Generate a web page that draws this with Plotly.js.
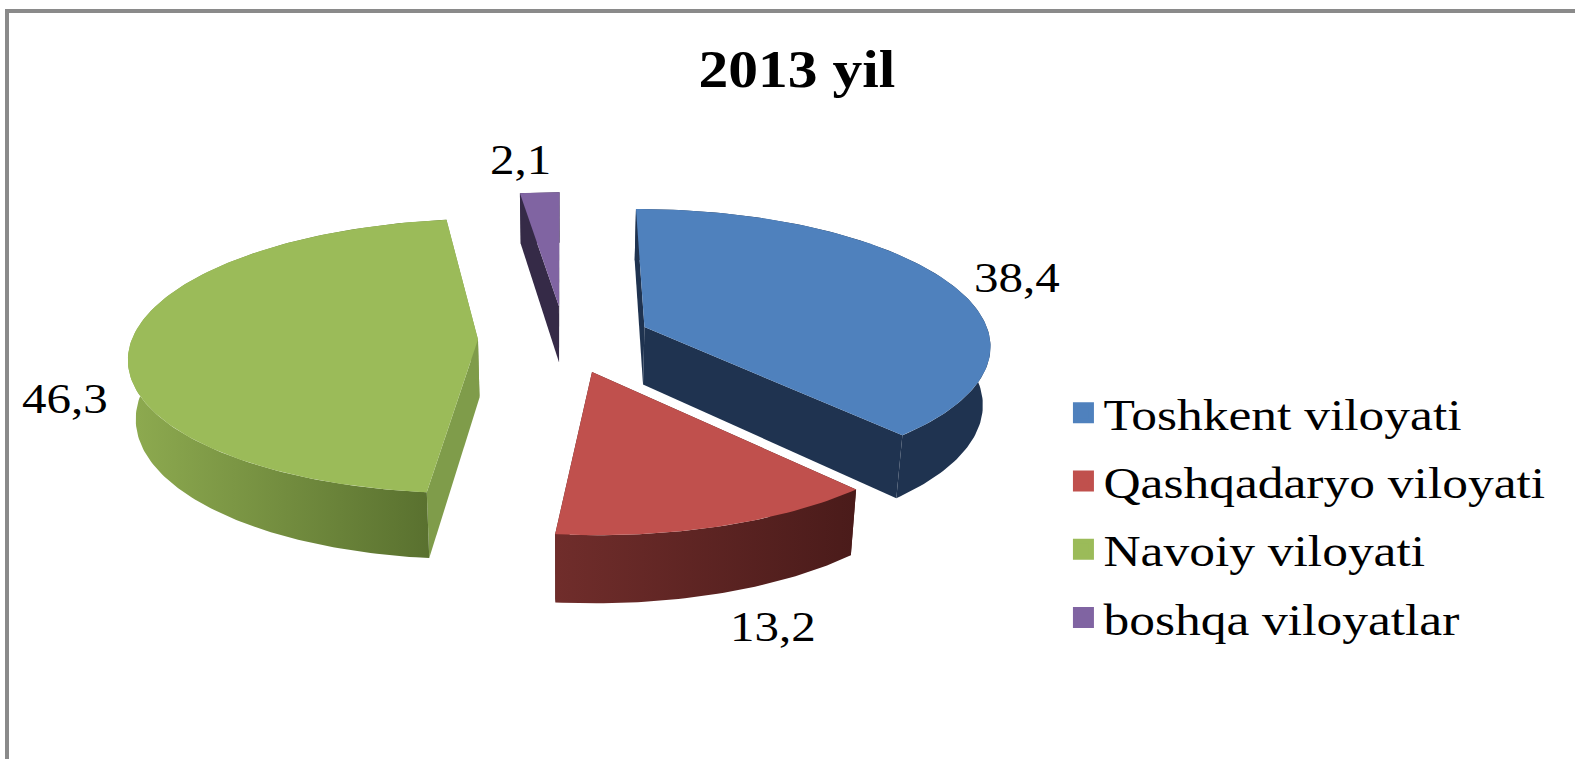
<!DOCTYPE html>
<html><head><meta charset="utf-8">
<script src="https://cdn.plot.ly/plotly-3.0.1.min.js"></script>
<style>html,body{margin:0;padding:0;background:#fff;overflow:hidden}
.legendtext{transform:scaleX(1.17);transform-box:fill-box;transform-origin:left center}
.annotation-text{transform:scaleX(1.14);transform-box:fill-box;transform-origin:center center}
.gtitle{transform:scaleX(1.145);transform-box:fill-box;transform-origin:center center}
</style>
</head><body><div id="chart" style="width:1575px;height:759px"></div>
<script>
const categories = ["Toshkent viloyati","Qashqadaryo viloyati","Navoiy viloyati","boshqa viloyatlar"];
const values = [38.4,13.2,46.3,2.1];
const valueLabels = ["38,4","13,2","46,3","2,1"];
const topColors = ["#4f81bd","#c0504d","#9bbb59","#8064a2"];
const cutColors = ["#1f3350","#4d1d1b","#7f9c4a","#352a47"];
const wallLeft = ["#1f3350","#702d2b","#8eab50","#352a47"];
const wallRight = ["#1f3350","#4a1b1a","#566d2d","#352a47"];
const labelPos = [[1017,278],[773,627],[65,399],[520,160]];

const cx=564.5, cy=339, Rx=346, Ry=135, k=0.12, ex=0.25, depth=58, shrink=0.982;
function proj(u,v,drop){
  const f=1/(1-k*v);
  const s=drop?shrink:1;
  return [cx+Rx*u*f*s, cy+Ry*v*f+(drop?depth*f:0)];
}
const total=values.reduce((a,b)=>a+b,0);
let acc=0;
const slices=values.map((val,i)=>{
  const a0=acc/total*2*Math.PI; acc+=val; const a1=acc/total*2*Math.PI;
  const m=(a0+a1)/2, ou=ex*Math.sin(m), ov=-ex*Math.cos(m);
  const pt=(a,r,d)=>proj(ou+r*Math.sin(a),ov-r*Math.cos(a),d);
  const n=Math.max(4,Math.ceil((a1-a0)/(Math.PI/180)));
  const arc=d=>{const p=[];for(let j=0;j<=n;j++)p.push(pt(a0+(a1-a0)*j/n,1,d));return p;};
  return {i,a0,a1,apex:d=>pt(0,0,d),arc};
});
function poly(pts,extra){
  const c=pts.concat([pts[0]]);
  return Object.assign({type:"scatter",mode:"lines",x:c.map(p=>p[0]),y:c.map(p=>p[1]),fill:"toself",
    line:{width:0},hoverinfo:"skip",showlegend:false},extra);
}
const traces=[];
function walls(i){
  const s=slices[i], top=s.arc(false), bot=s.arc(true);
  traces.push(poly([s.apex(false),top[0],bot[0],s.apex(true)],{fillcolor:cutColors[i]}));
  const L=top.length-1;
  traces.push(poly([s.apex(false),top[L],bot[L],s.apex(true)],{fillcolor:cutColors[i]}));
  const xs=top.concat(bot).map(p=>p[0]);
  traces.push(poly(top.concat(bot.slice().reverse()),{
    fillgradient:{type:"horizontal",start:Math.min(...xs),stop:Math.max(...xs),
      colorscale:[[0,wallLeft[i]],[1,wallRight[i]]]}}));
}
[3,2,0,1].forEach(walls);
[3,2,0,1].forEach(i=>{
  const s=slices[i];
  traces.push(poly([s.apex(false)].concat(s.arc(false)),{fillcolor:topColors[i]}));
});
categories.forEach((c,i)=>traces.push({type:"scatter",mode:"markers",x:[null],y:[null],name:c,
  legendgroup:c,marker:{symbol:"square",size:16,color:topColors[i],line:{color:topColors[i],width:5}},hoverinfo:"skip"}));

const serif="Liberation Serif, Times New Roman, serif";
const layout={
  width:1575,height:759,margin:{l:0,r:0,t:0,b:0},paper_bgcolor:"#fff",plot_bgcolor:"#fff",
  title:{text:"<b>2013 yil</b>",x:0.506,xanchor:"center",y:0.91,yanchor:"middle",font:{family:serif,size:52,color:"#000"}},
  xaxis:{range:[0,1575],visible:false,fixedrange:true},
  yaxis:{range:[759,0],visible:false,fixedrange:true},
  showlegend:true,
  legend:{x:0.6752,y:0.5023,xanchor:"left",yanchor:"top",font:{family:serif,size:44,color:"#000"},
    tracegroupgap:8,itemwidth:30,bgcolor:"rgba(0,0,0,0)"},
  annotations:values.map((v,i)=>({x:labelPos[i][0],y:labelPos[i][1],xref:"x",yref:"y",text:valueLabels[i],
    showarrow:false,xanchor:"center",yanchor:"middle",font:{family:serif,size:43,color:"#000"}})),
  shapes:[
    {type:"line",xref:"x",yref:"y",x0:7,x1:7,y0:9,y1:759,line:{color:"#8a8a8a",width:4}},
    {type:"line",xref:"x",yref:"y",x0:5,x1:1575,y0:11,y1:11,line:{color:"#8a8a8a",width:4}}
  ]
};
Plotly.newPlot("chart",traces,layout,{displayModeBar:false,staticPlot:true});
</script></body></html>
